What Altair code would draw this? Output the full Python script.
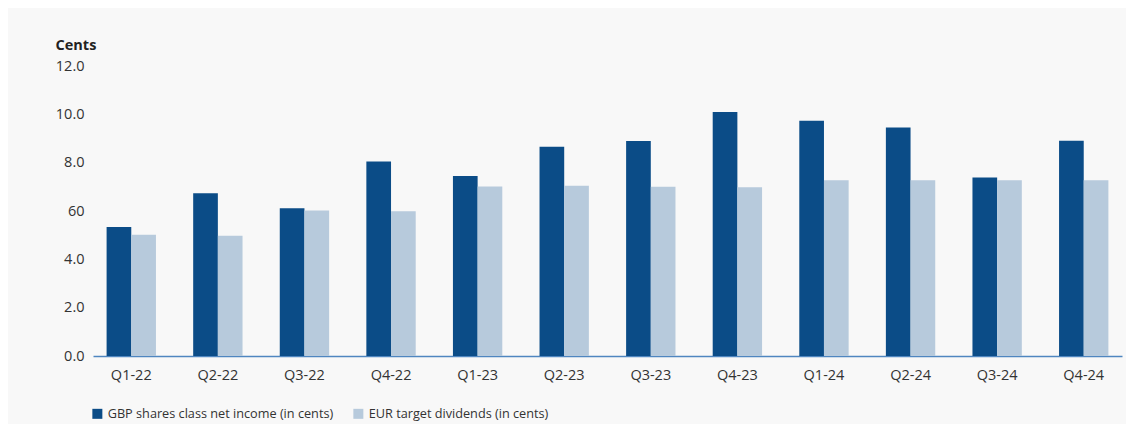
import altair as alt
import pandas as pd

quarters = ["Q1-22", "Q2-22", "Q3-22", "Q4-22", "Q1-23", "Q2-23",
            "Q3-23", "Q4-23", "Q1-24", "Q2-24", "Q3-24", "Q4-24"]
gbp_net_income = [5.34, 6.73, 6.11, 8.05, 7.45, 8.66, 8.90, 10.10, 9.73, 9.46, 7.39, 8.91]
eur_target_div = [5.02, 4.98, 6.02, 5.99, 7.01, 7.05, 7.00, 6.98, 7.27, 7.27, 7.27, 7.27]
series_names = ["GBP shares class net income (in cents)", "EUR target dividends (in cents)"]
series_colors = ["#0b4c87", "#b7cadc"]
y_ticks = [0, 2, 4, 6, 8, 10, 12]

rows = []
for q, a, b in zip(quarters, gbp_net_income, eur_target_div):
    rows.append({"Quarter": q, "Series": series_names[0], "Value": a})
    rows.append({"Quarter": q, "Series": series_names[1], "Value": b})
df = pd.DataFrame(rows)

chart = alt.Chart(df).mark_bar().encode(
    x=alt.X("Quarter:N", sort=quarters,
            scale=alt.Scale(paddingInner=0.43, paddingOuter=0.157),
            axis=alt.Axis(title=None, labelAngle=0, ticks=False, domain=True,
                          domainColor="#4f86c0", domainWidth=1.5,
                          labelFontSize=14.5, labelPadding=12, labelColor="#333333")),
    xOffset=alt.XOffset("Series:N", sort=series_names),
    y=alt.Y("Value:Q", scale=alt.Scale(domain=[0, 12], nice=False),
            axis=alt.Axis(values=y_ticks, title="Cents", titleAngle=0,
                          titleAlign="left", titleBaseline="middle",
                          titleX=-38, titleY=-21, titleFontSize=14.5,
                          titleFontWeight="bold", titleColor="#222222",
                          labelExpr="datum.value == 6 ? '60' : format(datum.value, '.1f')",
                          labelFontSize=14.5, labelPadding=9, labelColor="#333333",
                          ticks=False, domain=False, grid=False)),
    color=alt.Color("Series:N", sort=series_names,
                    scale=alt.Scale(domain=series_names, range=series_colors),
                    legend=alt.Legend(title=None, orient="none", legendX=-2, legendY=341,
                                      direction="horizontal", symbolType="square",
                                      symbolSize=100, symbolStrokeWidth=0,
                                      labelFontSize=12.7, labelColor="#333333",
                                      labelLimit=0, labelOffset=4, columnPadding=18)),
).properties(
    width=1029, height=290,
    autosize=alt.AutoSizeParams(type="none"),
    padding={"left": 85, "top": 58, "right": 4, "bottom": 68},
    background="#f8f8f8",
).configure(font="Open Sans").configure_view(stroke=None)

chart.save("out.html", embed_options={"renderer": "svg", "actions": False})
